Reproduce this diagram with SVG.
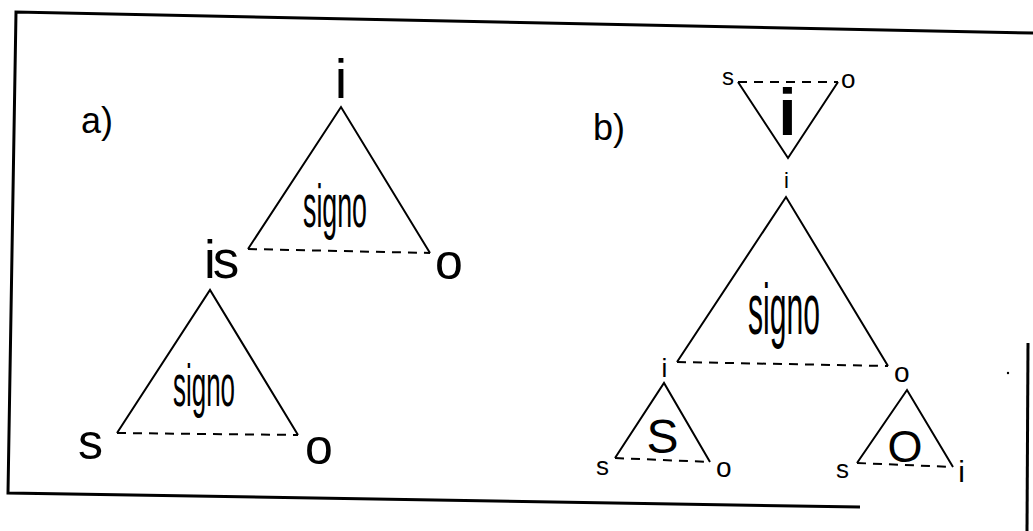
<svg xmlns="http://www.w3.org/2000/svg" width="1033" height="531" viewBox="0 0 1033 531">
<style>
.frame{fill:none;stroke:#000;stroke-width:3}
.side{fill:none;stroke:#000;stroke-width:2;stroke-linejoin:miter}
.base{fill:none;stroke:#000;stroke-width:2;stroke-dasharray:9 7}
text{font-family:"Liberation Sans",Arial,sans-serif;fill:#000}
</style>
<rect width="1033" height="531" fill="#fff"/>
<g id="frame">
<path class="frame" d="M1033,33 L16,12 L8,493 L860,507"/>
<path class="frame" d="M1028,343 L1027,531"/>
<circle cx="1008" cy="373" r="1.2" fill="#000"/>
</g>
<g id="labels">
<text x="81" y="133" font-size="36">a)</text>
<text x="593" y="140" font-size="36">b)</text>
</g>
<g id="a-top">
<path class="side" d="M248,249 L341,107 L430,253"/>
<text x="341" y="98" font-size="56" text-anchor="middle">i</text>
<text x="303" y="227" font-size="62" textLength="64" lengthAdjust="spacingAndGlyphs">signo</text>
<text x="204" y="278" font-size="53" letter-spacing="-3">is</text>
<text x="435" y="279" font-size="50">o</text>
</g>
<g id="a-bottom">
<path class="side" d="M117,433 L210,290 L298,435"/>
<text x="173" y="406" font-size="60" textLength="62" lengthAdjust="spacingAndGlyphs">signo</text>
<text x="78" y="459" font-size="50">s</text>
<text x="305" y="464" font-size="50">o</text>
</g>
<g id="b-top">
<path class="side" d="M738,82 L788,158 L838,82"/>
<text x="787.5" y="135" font-size="66" font-weight="bold" text-anchor="middle">i</text>
<text x="722" y="85" font-size="24">s</text>
<text x="841" y="88" font-size="26">o</text>
<text x="786.5" y="188" font-size="22" text-anchor="middle">i</text>
</g>
<g id="b-main">
<path class="side" d="M677,362 L786,197 L888,366"/>
<text x="748" y="334" font-size="72" textLength="72" lengthAdjust="spacingAndGlyphs">signo</text>
<text x="664.5" y="377" font-size="26" text-anchor="middle">i</text>
<text x="894" y="382" font-size="28">o</text>
</g>
<g id="b-S">
<path class="side" d="M615,458 L664,383 L710,462"/>
<text x="662.5" y="453" font-size="48" text-anchor="middle">S</text>
<text x="596" y="475" font-size="26">s</text>
<text x="716" y="477" font-size="28">o</text>
</g>
<g id="b-O">
<path class="side" d="M857,463 L907,390 L953,467"/>
<text x="905" y="462" font-size="45" text-anchor="middle">O</text>
<text x="836" y="478" font-size="26">s</text>
<text x="961.5" y="482" font-size="30" text-anchor="middle">i</text>
</g>
<g id="connectors">
<path class="base" d="M248,249 L430,253"/>
<path class="base" d="M117,433 L298,435"/>
<path class="base" d="M738,82 L838,82"/>
<path class="base" d="M677,362 L888,366"/>
<path class="base" d="M615,458 L710,462"/>
<path class="base" d="M857,463 L953,467"/>
</g>
</svg>
